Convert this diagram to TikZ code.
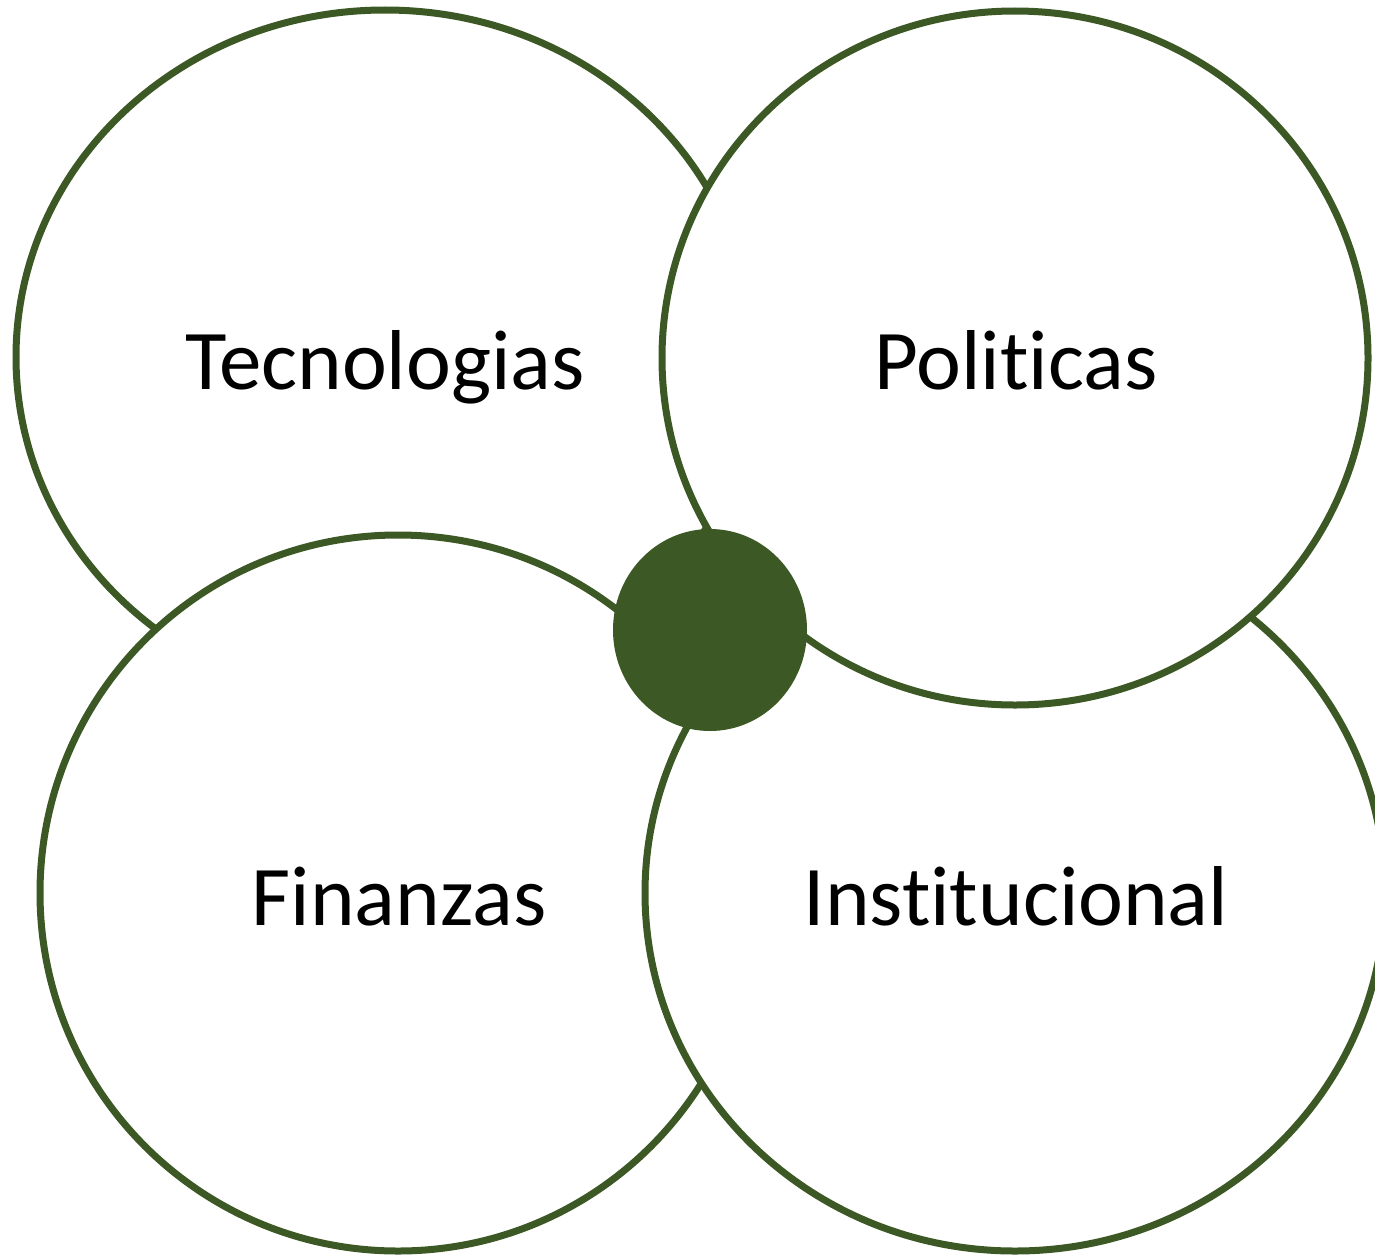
\documentclass[tikz,border=0pt]{standalone}
\usepackage{fontspec}
\setmainfont{Carlito}[Ligatures={NoCommon,NoRequired}]
\usetikzlibrary{shapes.geometric}
\definecolor{leaf}{RGB}{60,88,36}
\tikzset{
  petal/.style={ellipse, draw=leaf, line width=7pt, fill=white, inner sep=0pt},
  hub/.style={ellipse, fill=leaf, draw=none, inner sep=0pt, minimum width=194pt, minimum height=202pt},
  word/.style={anchor=base, inner sep=0pt, font=\fontsize{85}{100}\selectfont}
}
\begin{document}
\begin{tikzpicture}[x=1pt, y=-1pt]
  \useasboundingbox (0,0) rectangle (1375,1255);
  \clip (0,0) rectangle (1375,1255);
  % four overlapping petals, back to front
  \node[petal, minimum width=738pt, minimum height=694pt] (tec) at (385,357) {};
  \node[petal, minimum width=716pt, minimum height=716pt] (fin) at (398,893) {};
  \node[petal, minimum width=740pt, minimum height=716pt] (ins) at (1015,893) {};
  \node[petal, minimum width=706pt, minimum height=694pt] (pol) at (1015,358) {};
  % central hub
  \node[hub] (core) at (710,630) {};
  % labels
  \node[word] (ltec) at (385,389) {Tecnologias};
  \node[word] (lpol) at (1016,389) {Politicas};
  \node[word] (lfin) at (399,925) {Finanzas};
  \node[word] (lins) at (1016,925) {Institucional};
\end{tikzpicture}
\end{document}
